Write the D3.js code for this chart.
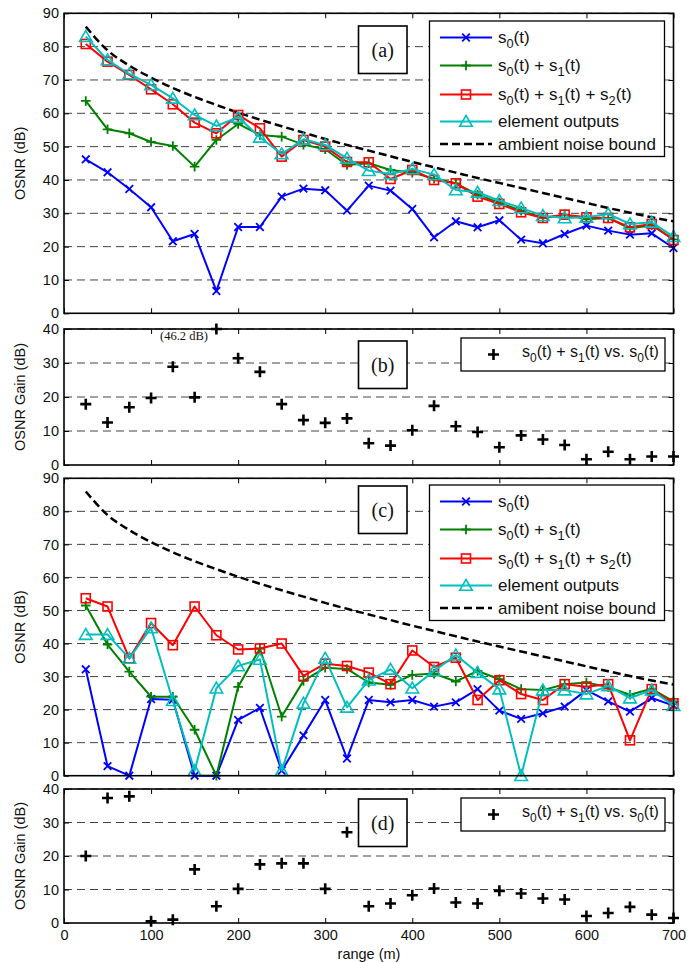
<!DOCTYPE html>
<html><head><meta charset="utf-8">
<script src="https://cdn.jsdelivr.net/npm/d3@7"></script>
<style>body{margin:0;background:#fff}svg{display:block}</style>
</head><body>
<svg id="chart" width="700" height="962"></svg>
<script>
// ---------- data ----------
const ranges = [25,50,75,100,125,150,175,200,225,250,275,300,325,350,375,400,425,450,475,500,525,550,575,600,625,650,675,700];
const xTicks = [0,100,200,300,400,500,600,700];
const osnrTicks = [0,10,20,30,40,50,60,70,80,90];
const gainTicks = [0,10,20,30,40];

const noiseBound = [86,78.9,74.3,70.7,67.6,64.9,62.5,60.2,58.1,56.1,54.2,52.3,50.5,48.8,47.1,45.4,43.8,42.2,40.6,39.1,37.6,36.1,34.6,33.1,31.6,30.2,28.8,27.6];

const aS0   = [46.2,42.3,37.3,31.8,21.6,23.8,6.7,25.9,25.9,35,37.4,36.9,30.8,38.3,36.8,31.3,22.8,27.6,25.8,27.9,22.1,21,23.8,26.3,24.8,23.6,24,19.6];
const aS01  = [63.7,55.2,54,51.4,50.2,44,52,56.8,53.5,53,50.6,49.2,44.5,45,43,42.2,40.4,39,35.6,33.2,30.8,28.6,29.6,28.2,28.6,25.4,26.4,22.2];
const aS012 = [80.8,75.5,71.5,67.2,62.7,57.2,54,59.5,55.5,47,52,50,45.4,45.3,40.3,43,40,39,35,32.8,30.3,28.6,29.6,28.8,28.6,25.8,26.8,22];
const aElem = [83,76,71.8,68.5,64.5,59.5,56.2,58.8,52.8,47.8,52.2,50.5,46.5,42.8,41.8,43.3,41.6,37,36.3,33.8,31.6,29.3,28.6,28.8,29.8,26.8,27.3,23];

const bGain = [17.9,12.5,17,19.7,28.9,19.9,46.2,31.4,27.4,17.9,13.2,12.4,13.7,6.4,5.7,10.2,17.4,11.4,9.7,5.2,8.7,7.5,5.9,1.7,3.9,1.7,2.5,2.5];

const cS0   = [32.2,2.9,0,23.2,23,0,0,16.9,20.5,1.5,12.2,22.9,5.2,22.9,22.2,22.9,20.9,22.2,26.2,19.7,17.2,18.9,20.9,25.9,22.5,19.4,23.5,21.2];
const cS01  = [51.5,39.7,31.5,23.9,23.9,13.9,0,26.9,38.5,17.9,28.7,32.7,32.3,28.2,27.5,30.5,30.9,28.5,31.7,29.2,26.2,25.9,27.7,28.2,26.8,24.5,26.3,22.5];
const cS012 = [53.7,51.2,35.5,46.2,39.5,51.2,42.5,38.2,38.5,40,30.2,33.9,33.2,31.2,27.7,37.9,32.9,35.7,22.9,28.9,24.7,22.9,27.7,26.9,27.7,10.7,26.2,21.9];
const cElem = [42.7,42.7,35.5,44.7,22.7,1.5,26.5,33.2,35.2,1.5,21.9,35.5,20.7,28.9,32.2,26.5,31.7,36.5,31.2,26.2,0,25.9,25.9,24.7,27.2,23.5,25.9,21.2];

const dGain = [20,37.3,37.8,0.5,1,16,5,10.2,17.5,17.8,17.8,10.2,27.1,5,5.8,8.3,10.3,6.1,5.8,9.6,8.8,7.3,7,2.1,3,4.8,2.5,1.5];

// ---------- setup ----------
const SANS = "'Liberation Sans', Arial, Helvetica, sans-serif";
const SERIF = "'Liberation Serif', 'Times New Roman', serif";
const BLUE = '#0000ff', GREEN = '#008000', RED = '#ff0000', CYAN = '#00bfbf';

const svg = d3.select('#chart');
const x = d3.scaleLinear().domain([0,700]).range([64,673.5]);

function makeY(top, bottom, max){ return d3.scaleLinear().domain([0,max]).range([bottom, top]); }
const yA = makeY(13.3, 313.3, 90);
const yB = makeY(329, 465, 40).clamp(true);
const yC = makeY(478.3, 775.7, 90);
const yD = makeY(789, 923, 40).clamp(true);

function grid(g, y, ticks){
  g.append('g').selectAll('line').data(ticks.filter(t => t > 0)).join('line')
    .attr('x1', x(0)).attr('x2', x(700))
    .attr('y1', d => y(d)).attr('y2', d => y(d))
    .attr('stroke', '#444').attr('stroke-width', 1).attr('stroke-dasharray', '8,5');
}

function frame(g, y, ticks, showX){
  const [b, t] = y.range();
  const left = g.append('g').attr('transform', `translate(${x(0)},0)`)
    .call(d3.axisLeft(y).tickValues(ticks).tickSize(-5).tickSizeOuter(0).tickPadding(5).tickFormat(d3.format('d')));
  const right = g.append('g').attr('transform', `translate(${x(700)},0)`)
    .call(d3.axisRight(y).tickValues(ticks).tickSize(-5).tickSizeOuter(0).tickFormat(''));
  const top = g.append('g').attr('transform', `translate(0,${t})`)
    .call(d3.axisTop(x).tickValues(xTicks).tickSize(-5).tickSizeOuter(0).tickFormat(''));
  const bot = g.append('g').attr('transform', `translate(0,${b})`)
    .call(d3.axisBottom(x).tickValues(xTicks).tickSize(-5).tickSizeOuter(0).tickPadding(7)
      .tickFormat(showX ? d3.format('d') : ''));
  [left, right, top, bot].forEach(a => {
    a.select('.domain').remove();
    a.selectAll('line').attr('stroke', '#000').attr('stroke-width', 1);
    a.selectAll('text').attr('font-family', SANS).attr('font-size', 14.5).attr('fill', '#111');
  });
  g.append('rect').attr('x', x(0)).attr('y', t).attr('width', x(700) - x(0)).attr('height', b - t)
    .attr('fill', 'none').attr('stroke', '#000').attr('stroke-width', 1.6);
}

function marker(g, type, cx, cy, color){
  const s = g.append('g').attr('transform', `translate(${cx},${cy})`)
    .attr('fill', 'none').attr('stroke', color);
  if (type === 'x'){
    s.attr('stroke-width', 1.8);
    s.append('path').attr('d', 'M-3.8,-3.8L3.8,3.8M-3.8,3.8L3.8,-3.8');
  } else if (type === '+'){
    s.attr('stroke-width', 1.8);
    s.append('path').attr('d', 'M-4.8,0L4.8,0M0,-4.8L0,4.8');
  } else if (type === 's'){
    s.attr('stroke-width', 1.6);
    s.append('rect').attr('x', -4.5).attr('y', -4.5).attr('width', 9).attr('height', 9);
  } else if (type === '^'){
    s.attr('stroke-width', 1.6);
    s.append('path').attr('d', 'M0,-6L6.3,4.8L-6.3,4.8Z');
  } else if (type === 'P'){
    s.attr('stroke-width', 2.6);
    s.append('path').attr('d', 'M-5.5,0L5.5,0M0,-5.5L0,5.5');
  }
}

function series(g, y, vals, color, type){
  const line = d3.line().x((d,i) => x(ranges[i])).y(d => y(d));
  g.append('path').datum(vals).attr('d', line).attr('fill', 'none')
    .attr('stroke', color).attr('stroke-width', 2).attr('stroke-linejoin', 'round');
  vals.forEach((v,i) => marker(g, type, x(ranges[i]), y(v), color));
}

function noise(g, y){
  const line = d3.line().curve(d3.curveMonotoneX).x((d,i) => x(ranges[i])).y(d => y(d));
  g.append('path').datum(noiseBound).attr('d', line).attr('fill', 'none')
    .attr('stroke', '#000').attr('stroke-width', 2.5).attr('stroke-dasharray', '8,4');
}

function richText(g, tx, ty, parts, size){
  const t = g.append('text').attr('x', tx).attr('y', ty).attr('font-family', SANS)
    .attr('font-size', size).attr('fill', '#111');
  let shifted = false;
  parts.forEach(p => {
    const sub = Array.isArray(p);
    const txt = sub ? p[0] : p;
    const ts = t.append('tspan').text(txt);
    if (sub && !shifted){ ts.attr('dy', 5).attr('font-size', size*0.75); shifted = true; }
    else if (sub){ ts.attr('font-size', size*0.75); }
    else if (!sub && shifted){ ts.attr('dy', -5); shifted = false; }
  });
  return t;
}

function tagBox(g, label, top){
  g.append('rect').attr('x', 358.5).attr('y', top).attr('width', 48.5).attr('height', 47.5)
    .attr('fill', '#fff').attr('stroke', '#000').attr('stroke-width', 1.6);
  g.append('text').attr('x', 382.7).attr('y', top + 30.5).attr('text-anchor', 'middle')
    .attr('font-family', SERIF).attr('font-size', 20).attr('fill', '#111').text(label);
}

function bigLegend(g, top, lastLabel){
  const lx = 429.5, w = 235, h = 135.5;
  g.append('rect').attr('x', lx).attr('y', top).attr('width', w).attr('height', h)
    .attr('fill', '#fff').attr('stroke', '#000').attr('stroke-width', 1.3);
  const rows = [
    {dy:16.5, color:BLUE, type:'x', parts:['s',['0'],'(t)']},
    {dy:44.5, color:GREEN, type:'+', parts:['s',['0'],'(t) + s',['1'],'(t)']},
    {dy:73.5, color:RED, type:'s', parts:['s',['0'],'(t) + s',['1'],'(t) + s',['2'],'(t)']},
    {dy:100.5, color:CYAN, type:'^', parts:['element outputs']},
    {dy:123, color:'#000', type:'dash', parts:[lastLabel]}
  ];
  rows.forEach(r => {
    const yy = top + r.dy;
    if (r.type === 'dash'){
      g.append('line').attr('x1', 440).attr('x2', 492).attr('y1', yy).attr('y2', yy)
        .attr('stroke', '#000').attr('stroke-width', 2.5).attr('stroke-dasharray', '8,4');
    } else {
      g.append('line').attr('x1', 440).attr('x2', 492).attr('y1', yy).attr('y2', yy)
        .attr('stroke', r.color).attr('stroke-width', 2);
      marker(g, r.type, 466, yy, r.color);
    }
    richText(g, 498, yy + 5.5, r.parts, 17);
  });
}

function gainLegend(g, top){
  g.append('rect').attr('x', 461).attr('y', top).attr('width', 204).attr('height', 33)
    .attr('fill', '#fff').attr('stroke', '#000').attr('stroke-width', 1.3);
  marker(g, 'P', 493.5, top + 16.5, '#000');
  richText(g, 522, top + 19, ['s',['0'],'(t) + s',['1'],'(t) vs. s',['0'],'(t)'], 16);
}

function gainPoints(g, y, vals){
  vals.forEach((v,i) => marker(g, 'P', x(ranges[i]), y(v), '#000'));
}

function yLabel(text, cx, cy){
  svg.append('text').attr('transform', `translate(${cx},${cy}) rotate(-90)`)
    .attr('text-anchor', 'middle').attr('font-family', SANS).attr('font-size', 14.5)
    .attr('fill', '#111').text(text);
}

// ---------- panel (a) ----------
const gA = svg.append('g');
grid(gA, yA, osnrTicks);
noise(gA, yA);
series(gA, yA, aS0, BLUE, 'x');
series(gA, yA, aS01, GREEN, '+');
series(gA, yA, aS012, RED, 's');
series(gA, yA, aElem, CYAN, '^');
tagBox(gA, '(a)', 26);
bigLegend(gA, 21, 'ambient noise bound');
frame(gA, yA, osnrTicks, false);
yLabel('OSNR (dB)', 25, 163.3);

// ---------- panel (b) ----------
const gB = svg.append('g');
grid(gB, yB, gainTicks);
gainPoints(gB, yB, bGain);
gB.append('text').attr('x', 160).attr('y', 340).attr('font-family', SERIF).attr('font-size', 12.5)
  .attr('fill', '#111').text('(46.2 dB)');
tagBox(gB, '(b)', 341);
gainLegend(gB, 338);
frame(gB, yB, gainTicks, false);
yLabel('OSNR Gain (dB)', 25, 397);

// ---------- panel (c) ----------
const gC = svg.append('g');
grid(gC, yC, osnrTicks);
noise(gC, yC);
series(gC, yC, cS0, BLUE, 'x');
series(gC, yC, cS01, GREEN, '+');
series(gC, yC, cS012, RED, 's');
series(gC, yC, cElem, CYAN, '^');
tagBox(gC, '(c)', 486);
bigLegend(gC, 485, 'amibent noise bound');
frame(gC, yC, osnrTicks, false);
yLabel('OSNR (dB)', 25, 627);

// ---------- panel (d) ----------
const gD = svg.append('g');
grid(gD, yD, gainTicks);
gainPoints(gD, yD, dGain);
tagBox(gD, '(d)', 799);
gainLegend(gD, 798);
frame(gD, yD, gainTicks, true);
yLabel('OSNR Gain (dB)', 25, 856);

svg.append('text').attr('x', 369).attr('y', 958.5).attr('text-anchor', 'middle')
  .attr('font-family', SANS).attr('font-size', 14.5).attr('fill', '#111').text('range (m)');
</script>
</body></html>
